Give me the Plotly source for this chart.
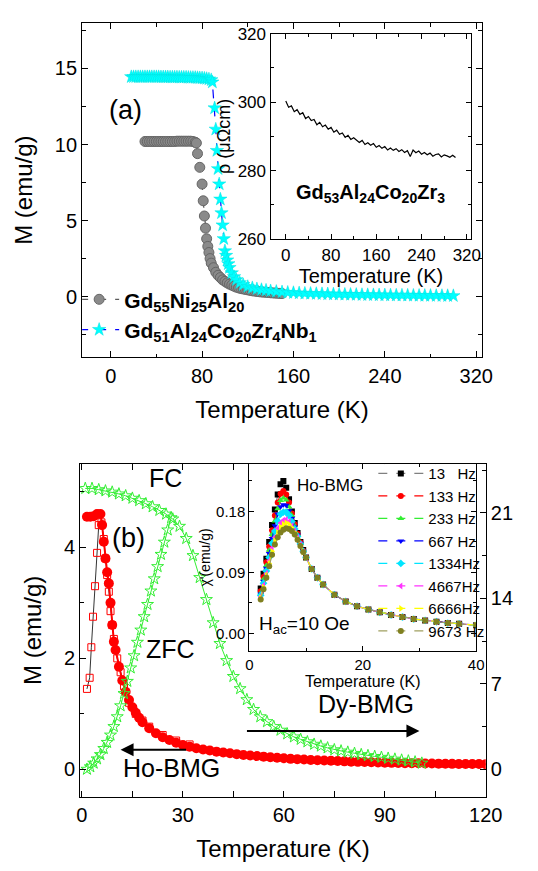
import plotly.graph_objects as go

W, H = 538, 871
FONT = "Liberation Sans, Arial, sans-serif"

# ---- panel (a): M vs T ----
gd55_t = [30, 32, 34, 36, 38, 40, 42, 44, 46, 48, 50, 52, 54, 56, 58, 60, 62, 64, 66, 68, 70, 72,
          74, 75, 76, 78, 80, 81, 82, 83, 84, 85, 86, 87, 88, 90, 92, 94, 96, 98, 100, 102, 104,
          106, 108, 110, 112, 114, 116, 118, 120, 122, 124, 126, 128, 130, 132, 134, 136, 138,
          140, 142, 144, 146, 148, 150]
gd55_m = [10.2, 10.2, 10.2, 10.2, 10.2, 10.2, 10.2, 10.2, 10.2, 10.2, 10.2, 10.2, 10.2, 10.2,
          10.22, 10.22, 10.22, 10.22, 10.22, 10.22, 10.22, 10.2, 10.15, 10.1, 9.4, 8.5, 7.4, 6.3,
          5.3, 4.5, 3.8, 3.3, 2.9, 2.5, 2.2, 1.9, 1.6, 1.4, 1.25, 1.1, 1.0, 0.9, 0.82, 0.75,
          0.68, 0.62, 0.57, 0.53, 0.5, 0.47, 0.44, 0.41, 0.38, 0.36, 0.34, 0.32, 0.3, 0.29, 0.28,
          0.27, 0.25, 0.24, 0.23, 0.22, 0.21, 0.2]
gd51_t = [18, 20, 22, 24, 26, 28, 30, 32, 34, 36, 38, 40, 42, 44, 46, 48, 50, 52, 54, 56, 58, 60,
          62, 64, 66, 68, 70, 72, 74, 76, 78, 80, 82, 84, 86, 88, 89, 91, 92, 93, 94, 95, 96, 97,
          98, 99, 100, 101, 102, 103, 104, 106, 108, 110, 113, 116, 120, 124, 128, 132, 136, 140,
          145, 150, 155, 160, 165, 170, 175, 180, 185, 190, 195, 200, 205, 210, 215, 220, 225,
          230, 235, 240, 245, 250, 255, 260, 265, 270, 275, 280, 285, 290, 295, 300]
gd51_m = [14.45, 14.45, 14.45, 14.45, 14.45, 14.45, 14.45, 14.45, 14.45, 14.45, 14.45, 14.45,
          14.45, 14.44, 14.44, 14.44, 14.44, 14.43, 14.43, 14.43, 14.43, 14.42, 14.42, 14.42,
          14.42, 14.41, 14.4, 14.4, 14.4, 14.39, 14.38, 14.37, 14.35, 14.33, 14.3, 14.25, 14.1,
          12.4, 11.0, 9.6, 8.4, 7.4, 6.4, 5.5, 4.7, 3.8, 3.0, 2.7, 2.4, 2.15, 1.9, 1.55, 1.3,
          1.1, 0.9, 0.78, 0.65, 0.57, 0.5, 0.45, 0.41, 0.37, 0.33, 0.3, 0.27, 0.25, 0.23, 0.21,
          0.2, 0.19, 0.18, 0.17, 0.16, 0.15, 0.14, 0.135, 0.13, 0.12, 0.115, 0.11, 0.105, 0.1,
          0.095, 0.09, 0.085, 0.08, 0.075, 0.07, 0.068, 0.065, 0.06, 0.058, 0.055, 0.05]

# inset (a): resistivity
rho_t = list(range(0, 305, 5))
rho_v = [300.3, 298.5, 298.9, 297.2, 297.8, 296.4, 296.9, 295.2, 295.8, 294.6, 294.9, 293.4,
         294.1, 292.8, 293.3, 292.1, 292.6, 291.2, 291.8, 290.6, 291.0, 289.7, 290.3, 289.1,
         289.6, 288.9, 288.2, 288.8, 287.6, 288.1, 287.4, 287.9, 286.8, 287.3, 286.5, 287.0,
         286.0, 286.6, 285.9, 286.4, 285.6, 286.1, 285.3, 285.8, 284.1, 286.0, 285.2, 285.7,
         284.8, 285.3, 284.6, 285.1, 284.2, 284.7, 284.9, 284.0, 284.6, 284.3, 283.9, 284.5, 283.8]

# ---- panel (b): Ho-BMG (left axis) ----
ho_fc_t = [1.5, 2.5, 3.5, 4.5, 5.5, 6.0, 6.5, 7.0, 7.5, 8.0, 8.5, 9.0, 9.5, 10, 11, 12, 13, 14, 15,
           16, 17, 18, 20, 22, 24, 26, 28, 30, 32, 34, 36, 38, 40, 42, 44, 46, 48, 50, 52, 54, 56,
           58, 60, 62, 64, 66, 68, 70, 72, 74, 76, 78, 80, 82, 84, 86, 88, 90, 92, 94, 96, 98,
           100, 102, 104, 106, 108, 110, 112, 114, 116, 118, 120]
ho_fc_m = [4.55, 4.55, 4.56, 4.6, 4.6, 4.4, 4.1, 3.8, 3.55, 3.35, 3.0, 2.6, 2.3, 2.15, 1.85, 1.6,
           1.4, 1.25, 1.12, 1.02, 0.93, 0.85, 0.74, 0.65, 0.58, 0.53, 0.48, 0.44, 0.41, 0.38,
           0.36, 0.34, 0.32, 0.305, 0.29, 0.275, 0.26, 0.25, 0.24, 0.23, 0.22, 0.21, 0.2, 0.19,
           0.185, 0.178, 0.17, 0.165, 0.16, 0.155, 0.15, 0.145, 0.14, 0.136, 0.132, 0.128, 0.124,
           0.12, 0.118, 0.116, 0.113, 0.111, 0.11, 0.108, 0.106, 0.104, 0.102, 0.1, 0.099,
           0.098, 0.097, 0.096, 0.095]
ho_zfc_t = [1.5, 2.3, 2.8, 3.3, 3.9, 4.5, 5.0, 5.8, 6.5, 7.0, 7.5, 8.0, 8.5, 9.0, 9.5, 10.5, 11.5,
            12.5, 14, 16, 18, 20, 24, 28, 32]
ho_zfc_m = [1.45, 1.65, 2.2, 2.75, 3.3, 3.9, 4.4, 4.45, 4.15, 3.8, 3.5, 3.2, 2.85, 2.6, 2.35,
            2.0, 1.75, 1.5, 1.2, 1.0, 0.88, 0.77, 0.62, 0.52, 0.45]

# Dy-BMG (right axis)
dy_fc_t = list(range(1, 102, 2))
dy_fc_m = [23.0, 23.0, 22.9, 22.8, 22.7, 22.55, 22.4, 22.2, 22.0, 21.75, 21.5, 21.2, 20.9, 20.5,
           19.9, 18.9, 17.5, 15.7, 13.9, 12.0, 10.3, 8.9, 7.6, 6.6, 5.7, 4.9, 4.3, 3.9, 3.5, 3.2,
           2.9, 2.65, 2.45, 2.25, 2.05, 1.9, 1.75, 1.6, 1.5, 1.4, 1.3, 1.2, 1.12, 1.05, 0.98,
           0.9, 0.83, 0.75, 0.68, 0.6, 0.5]
dy_zfc_t = [1.5, 2.5, 3.5, 4.5, 5.5, 6.5, 7.5, 8.5, 9.5, 10.5, 11.5, 12.5, 13.5, 14.5, 15.5,
            16.5, 17.5, 18.5, 19.5, 20.5, 21.5, 22.5, 23.5, 24.5, 25.5, 26.5]
dy_zfc_m = [0.0, 0.2, 0.5, 0.85, 1.2, 1.7, 2.2, 2.8, 3.5, 4.3, 5.2, 6.2, 7.2, 8.3, 9.3, 10.4,
            11.4, 12.5, 13.5, 14.6, 15.6, 16.6, 17.6, 18.6, 19.6, 20.6]

# inset (b): ac susceptibility
chi_head_t = [2, 2.5, 3, 3.5, 4, 4.5, 5, 5.5, 6, 6.5, 7, 7.5, 8, 8.5, 9, 9.5]
chi_tail_t = [10, 11, 12, 13, 15, 17, 19, 21, 23, 25, 27, 29, 31, 33, 35, 37, 40]
chi_tail = [0.112, 0.095, 0.082, 0.072, 0.057, 0.047, 0.04, 0.035, 0.031, 0.027, 0.024, 0.021,
            0.019, 0.017, 0.015, 0.014, 0.012]
freq_labels = ["13   Hz", "133 Hz", "233 Hz", "667 Hz", "1334Hz", "4667Hz", "6666Hz", "9673 Hz"]
freq_colors = ["#000000", "#ff0000", "#33ee33", "#0000ff", "#00e5ff", "#ff33ff", "#ffff00", "#808020"]
freq_lines = ["#808080", "#ff0000", "#33ee33", "#0000ff", "#00e5ff", "#ff33ff", "#ffff00", "#a0a060"]
freq_symbols = ["square", "circle", "triangle-up", "triangle-down", "diamond",
                "triangle-left", "triangle-right", "circle"]
chi_heads = [
    [0.066, 0.088, 0.11, 0.135, 0.16, 0.183, 0.205, 0.22, 0.225, 0.215, 0.198, 0.18, 0.163, 0.148, 0.135, 0.123],
    [0.062, 0.083, 0.105, 0.128, 0.152, 0.174, 0.193, 0.206, 0.21, 0.205, 0.193, 0.177, 0.161, 0.147, 0.134, 0.122],
    [0.06, 0.08, 0.1, 0.123, 0.146, 0.166, 0.184, 0.196, 0.2, 0.197, 0.187, 0.174, 0.159, 0.146, 0.133, 0.122],
    [0.058, 0.077, 0.096, 0.118, 0.14, 0.159, 0.176, 0.187, 0.19, 0.189, 0.181, 0.17, 0.157, 0.145, 0.133, 0.121],
    [0.056, 0.074, 0.092, 0.112, 0.133, 0.151, 0.166, 0.176, 0.179, 0.179, 0.174, 0.165, 0.154, 0.143, 0.132, 0.121],
    [0.054, 0.071, 0.088, 0.107, 0.126, 0.142, 0.155, 0.163, 0.167, 0.168, 0.165, 0.159, 0.151, 0.141, 0.131, 0.12],
    [0.052, 0.068, 0.085, 0.103, 0.121, 0.137, 0.149, 0.157, 0.161, 0.163, 0.161, 0.156, 0.149, 0.14, 0.13, 0.12],
    [0.05, 0.065, 0.082, 0.099, 0.116, 0.131, 0.142, 0.149, 0.153, 0.155, 0.154, 0.151, 0.146, 0.138, 0.129, 0.12],
]


def fx(px):
    return px / W


def fy(px):
    return 1 - px / H


fig = go.Figure()

fig.add_trace(go.Scatter(
    x=gd55_t, y=gd55_m, mode="lines+markers", name="<b>Gd<sub>55</sub>Ni<sub>25</sub>Al<sub>20</sub></b>",
    line=dict(color="#333333", width=1, dash="dash"),
    marker=dict(symbol="circle", size=10, color="#8a8a8a", line=dict(color="#666666", width=1)),
    xaxis="x", yaxis="y", legend="legend"))
fig.add_trace(go.Scatter(
    x=gd51_t, y=gd51_m, mode="lines+markers",
    name="<b>Gd<sub>51</sub>Al<sub>24</sub>Co<sub>20</sub>Zr<sub>4</sub>Nb<sub>1</sub></b>",
    line=dict(color="#0000ff", width=1.2, dash="dash"),
    marker=dict(symbol="star", size=10, color="#00ffff", line=dict(color="#00e0e0", width=0.5)),
    xaxis="x", yaxis="y", legend="legend"))

fig.add_trace(go.Scatter(x=rho_t, y=rho_v, mode="lines", line=dict(color="black", width=1.2),
                         showlegend=False, xaxis="x2", yaxis="y2"))

fig.add_trace(go.Scatter(x=ho_zfc_t, y=ho_zfc_m, mode="lines+markers", line=dict(color="black", width=0.8),
                         marker=dict(symbol="square-open", size=7, color="#ff0000"),
                         showlegend=False, xaxis="x3", yaxis="y3"))
fig.add_trace(go.Scatter(x=ho_fc_t, y=ho_fc_m, mode="lines+markers", line=dict(color="#ff0000", width=2),
                         marker=dict(symbol="circle", size=10, color="#ff0000"),
                         showlegend=False, xaxis="x3", yaxis="y3"))
fig.add_trace(go.Scatter(x=dy_fc_t, y=dy_fc_m, mode="lines+markers", line=dict(color="#33ee33", width=1),
                         marker=dict(symbol="star-open", size=9, color="#33ee33"),
                         showlegend=False, xaxis="x3", yaxis="y4"))
fig.add_trace(go.Scatter(x=dy_zfc_t, y=dy_zfc_m, mode="lines+markers", line=dict(color="#33ee33", width=1),
                         marker=dict(symbol="star-open", size=9, color="#33ee33"),
                         showlegend=False, xaxis="x3", yaxis="y4"))

for i, lab in enumerate(freq_labels):
    fig.add_trace(go.Scatter(
        x=chi_head_t + chi_tail_t, y=chi_heads[i] + chi_tail, mode="lines+markers", name=lab,
        line=dict(color=freq_lines[i], width=1.2, dash="dash"),
        marker=dict(symbol=freq_symbols[i], size=6, color=freq_colors[i]),
        xaxis="x5", yaxis="y5", legend="legend2"))

ax_common = dict(showline=True, linecolor="black", linewidth=1.2, mirror="allticks", ticks="inside",
                 tickcolor="black", showgrid=False, zeroline=False)

fig.update_layout(
    width=W, height=H, margin=dict(l=0, r=0, t=0, b=0),
    paper_bgcolor="white", plot_bgcolor="white",
    font=dict(family=FONT, color="black"),
    xaxis=dict(**ax_common, domain=[fx(73), fx(489)], range=[-25, 325], tickvals=[0, 80, 160, 240, 320],
               minor=dict(ticks="inside", dtick=40, tickcolor="black"), ticklen=6,
               tickfont=dict(size=20), title=dict(text="Temperature (K)", font=dict(size=24)),
               anchor="y"),
    yaxis=dict(**ax_common, domain=[fy(348), fy(6)], range=[-4, 18], tickvals=[0, 5, 10, 15],
               minor=dict(ticks="inside", dtick=2.5, tickcolor="black"), ticklen=6,
               tickfont=dict(size=20), title=dict(text="M (emu/g)", font=dict(size=24)), anchor="x"),
    xaxis2=dict(**ax_common, domain=[fx(269), fx(478)], range=[-27, 328], tickvals=[0, 80, 160, 240, 320],
                minor=dict(ticks="inside", dtick=40, tickcolor="black"), ticklen=5,
                tickfont=dict(size=17), title=dict(text="Temperature (K)", font=dict(size=20), standoff=4),
                anchor="y2"),
    yaxis2=dict(**ax_common, domain=[fy(227), fy(17)], range=[260, 320], tickvals=[260, 280, 300, 320],
                minor=dict(ticks="inside", dtick=10, tickcolor="black"), ticklen=5,
                tickfont=dict(size=17), title=dict(text="ρ (μΩcm)", font=dict(size=18), standoff=2),
                anchor="x2"),
    xaxis3=dict(**ax_common, domain=[fx(71), fx(493)], range=[-0.5, 120], tickvals=[0, 30, 60, 90, 120],
                minor=dict(ticks="inside", dtick=15, tickcolor="black"), ticklen=6,
                tickfont=dict(size=20), title=dict(text="Temperature (K)", font=dict(size=24)),
                anchor="y3"),
    yaxis3=dict(showline=True, linecolor="black", linewidth=1.2, ticks="inside", tickcolor="black",
                showgrid=False, zeroline=False, domain=[fy(797), fy(457)], range=[-0.49, 5.5],
                tickvals=[0, 2, 4], minor=dict(ticks="inside", dtick=1, tickcolor="black"), ticklen=6,
                tickfont=dict(size=20), title=dict(text="M (emu/g)", font=dict(size=24)), anchor="x3"),
    yaxis4=dict(showline=True, linecolor="black", linewidth=1.2, ticks="inside", tickcolor="black",
                showgrid=False, zeroline=False, overlaying="y3", side="right", range=[-2.24, 25.0],
                tickvals=[0, 7, 14, 21], minor=dict(ticks="inside", dtick=3.5, tickcolor="black"),
                ticklen=6, tickfont=dict(size=20), anchor="x3"),
    xaxis5=dict(**ax_common, domain=[fx(247), fx(483)], range=[0, 40], tickvals=[0, 20, 40],
                minor=dict(ticks="inside", dtick=10, tickcolor="black"), ticklen=5,
                tickfont=dict(size=15), title=dict(text="Temperature (K)", font=dict(size=16), standoff=0),
                anchor="y5"),
    yaxis5=dict(**ax_common, domain=[fy(648), fy(457)], range=[-0.026, 0.25], tickvals=[0, 0.09, 0.18],
                tickformat=".2f", minor=dict(ticks="inside", dtick=0.045, tickcolor="black"), ticklen=5,
                tickfont=dict(size=15), title=dict(text="χ'(emu/g)", font=dict(size=14), standoff=2),
                anchor="x5"),
    legend=dict(x=fx(73), y=fy(268), xanchor="left", yanchor="top", bgcolor="rgba(0,0,0,0)",
                font=dict(size=21, color="black"), tracegroupgap=0, itemwidth=40,
                indentation=-8),
    legend2=dict(x=fx(376), y=fy(450), xanchor="left", yanchor="top", bgcolor="rgba(0,0,0,0)",
                 font=dict(size=15, color="black"), tracegroupgap=0, itemwidth=45),
)

annos = [
    dict(x=118, y=95, text="(a)", size=27),
    dict(x=121, y=533, text="(b)", size=27),
    dict(x=160, y=471, text="FC", size=25),
    dict(x=165, y=646, text="ZFC", size=25),
    dict(x=368, y=702, text="Dy-BMG", size=25),
    dict(x=166, y=768, text="Ho-BMG", size=25),
    dict(x=331, y=479, text="Ho-BMG", size=17),
    dict(x=304, y=622, text="H<sub>ac</sub>=10 Oe", size=19),
    dict(x=373, y=180, text="<b>Gd<sub>53</sub>Al<sub>24</sub>Co<sub>20</sub>Zr<sub>3</sub></b>", size=20),
]
for a in annos:
    fig.add_annotation(x=fx(a["x"]), y=fy(a["y"]), xref="paper", yref="paper", text=a["text"],
                       xanchor="center", yanchor="middle", showarrow=False,
                       font=dict(size=a["size"], family=FONT, color="black"))

for x0, x1, y in [(180, 113, 749), (250, 424, 730)]:
    fig.add_annotation(x=fx(x1), y=fy(y), ax=x0 - x1, ay=0, xref="paper", yref="paper",
                       axref="pixel", ayref="pixel", text="", showarrow=True, arrowhead=2,
                       arrowsize=1.3, arrowwidth=2, arrowcolor="black")

fig.write_html("out.html")
